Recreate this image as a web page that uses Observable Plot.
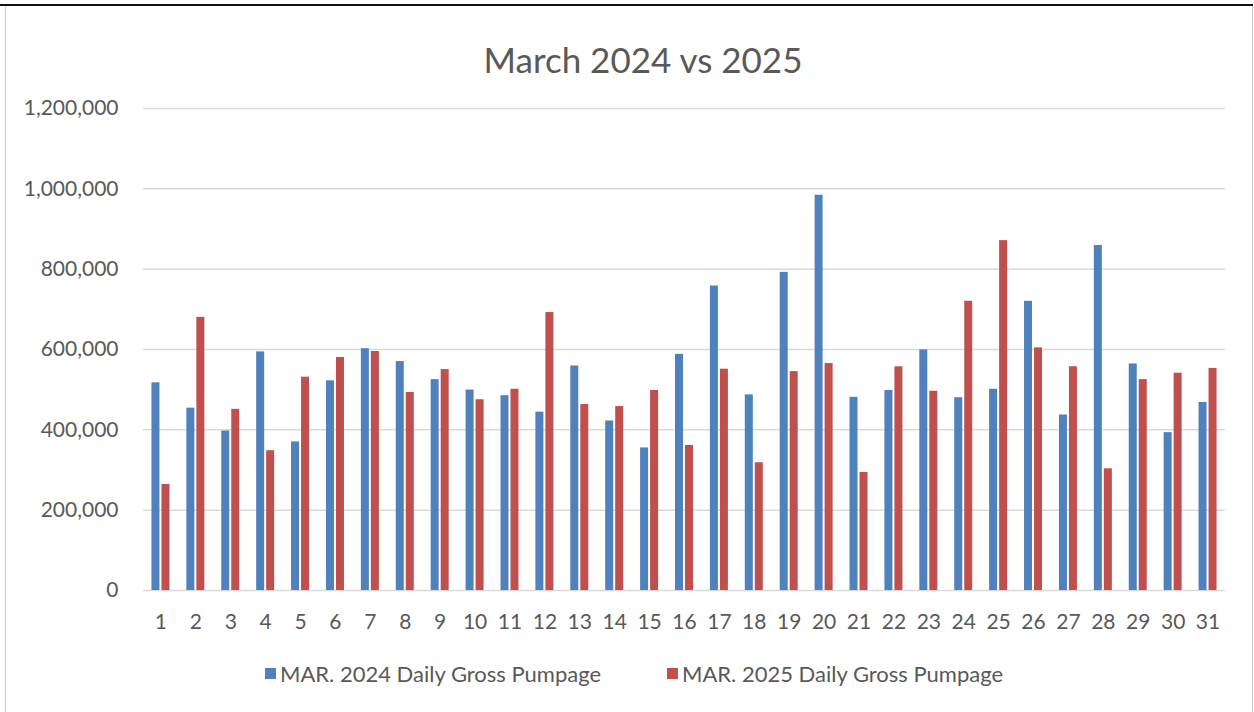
<!DOCTYPE html>
<html>
<head>
<meta charset="utf-8">
<script src="https://cdn.jsdelivr.net/npm/d3@7"></script>
<script src="https://cdn.jsdelivr.net/npm/@observablehq/plot@0.6"></script>
<style>
  html, body { margin: 0; padding: 0; background: #fff; }
  #wrap { position: relative; width: 1254px; height: 712px; overflow: hidden; font-family: Lato, "Open Sans", sans-serif; color: #595959; }
  #frame { position: absolute; left: 5px; top: 5px; width: 1248px; height: 720px; border-left: 1.5px solid #d0d0d0; border-right: 1.5px solid #d0d0d0; box-sizing: border-box; }
  #topline { position: absolute; left: 0; top: 4px; width: 1253px; height: 2px; background: #111; }
  #title { position: absolute; left: 0; width: 1286px; top: 36px; text-align: center; font-size: 35px; line-height: 46px; }
  #chart { position: absolute; left: 0; top: 0; }
  #legend { position: absolute; top: 659px; left: 0; width: 1254px; height: 28px; font-size: 22px; }
  .item { position: absolute; top: 0; display: flex; align-items: center; height: 28px; white-space: nowrap; }
  .sw { width: 11px; height: 11px; margin-right: 4px; }
</style>
</head>
<body>
<div id="wrap">
  <div id="frame"></div>
  <div id="topline"></div>
  <div id="title">March 2024 vs 2025</div>
  <div id="chart"></div>
  <div id="legend"></div>
</div>
<script>
const days = ["1","2","3","4","5","6","7","8","9","10","11","12","13","14","15","16","17","18","19","20","21","22","23","24","25","26","27","28","29","30","31"];
const mar2024 = [517000, 454000, 397000, 594000, 370000, 522000, 602000, 570000, 525000, 499000, 485000, 444000, 559000, 422000, 355000, 588000, 758000, 487000, 792000, 984000, 481000, 498000, 599000, 480000, 501000, 720000, 437000, 859000, 564000, 393000, 468000];
const mar2025 = [264000, 680000, 451000, 348000, 531000, 580000, 595000, 493000, 550000, 475000, 501000, 692000, 463000, 458000, 498000, 361000, 551000, 318000, 545000, 565000, 294000, 557000, 496000, 720000, 871000, 604000, 557000, 303000, 525000, 541000, 553000];
const seriesNames = ["MAR. 2024 Daily Gross Pumpage", "MAR. 2025 Daily Gross Pumpage"];
const colors = ["#4F81BD", "#C0504D"];
const yTicks = [0, 200000, 400000, 600000, 800000, 1000000, 1200000];

const data = days.map((d, i) => ({day: d, v24: mar2024[i], v25: mar2025[i]}));

const W = 1254, H = 630, mL = 143, mR = 29, mT = 108, mB = 40;
const band = (W - mL - mR) / days.length;
const barW = 8, gap = 2;
const off = (band - (2 * barW + gap)) / 2;

const chart = Plot.plot({
  width: W, height: H,
  marginTop: mT, marginBottom: mB, marginLeft: mL, marginRight: mR,
  x: {type: "band", domain: days, padding: 0, round: false},
  y: {domain: [0, 1200000]},
  style: {fontFamily: "Lato, 'Open Sans', sans-serif", fontSize: "21px", color: "#595959", background: "transparent", overflow: "visible"},
  marks: [
    Plot.ruleY(yTicks, {stroke: "#d9d9d9", strokeWidth: 1.5}),
    Plot.barY(data, {x: "day", y: "v24", fill: colors[0], insetLeft: off, insetRight: band - off - barW}),
    Plot.barY(data, {x: "day", y: "v25", fill: colors[1], insetLeft: off + barW + gap, insetRight: off}),
    Plot.axisY({ticks: yTicks, tickSize: 0, tickPadding: 25, tickFormat: d3.format(","), fill: "#595959", label: null}),
    Plot.axisX({tickSize: 0, tickPadding: 24, fill: "#595959", label: null})
  ]
});
document.getElementById("chart").appendChild(chart);

const legend = document.getElementById("legend");
const lefts = [265, 667];
seriesNames.forEach((name, i) => {
  const it = document.createElement("div");
  it.className = "item";
  it.style.left = lefts[i] + "px";
  const sw = document.createElement("span");
  sw.className = "sw";
  sw.style.background = colors[i];
  const tx = document.createElement("span");
  tx.textContent = name;
  it.appendChild(sw); it.appendChild(tx);
  legend.appendChild(it);
});
</script>
</body>
</html>
